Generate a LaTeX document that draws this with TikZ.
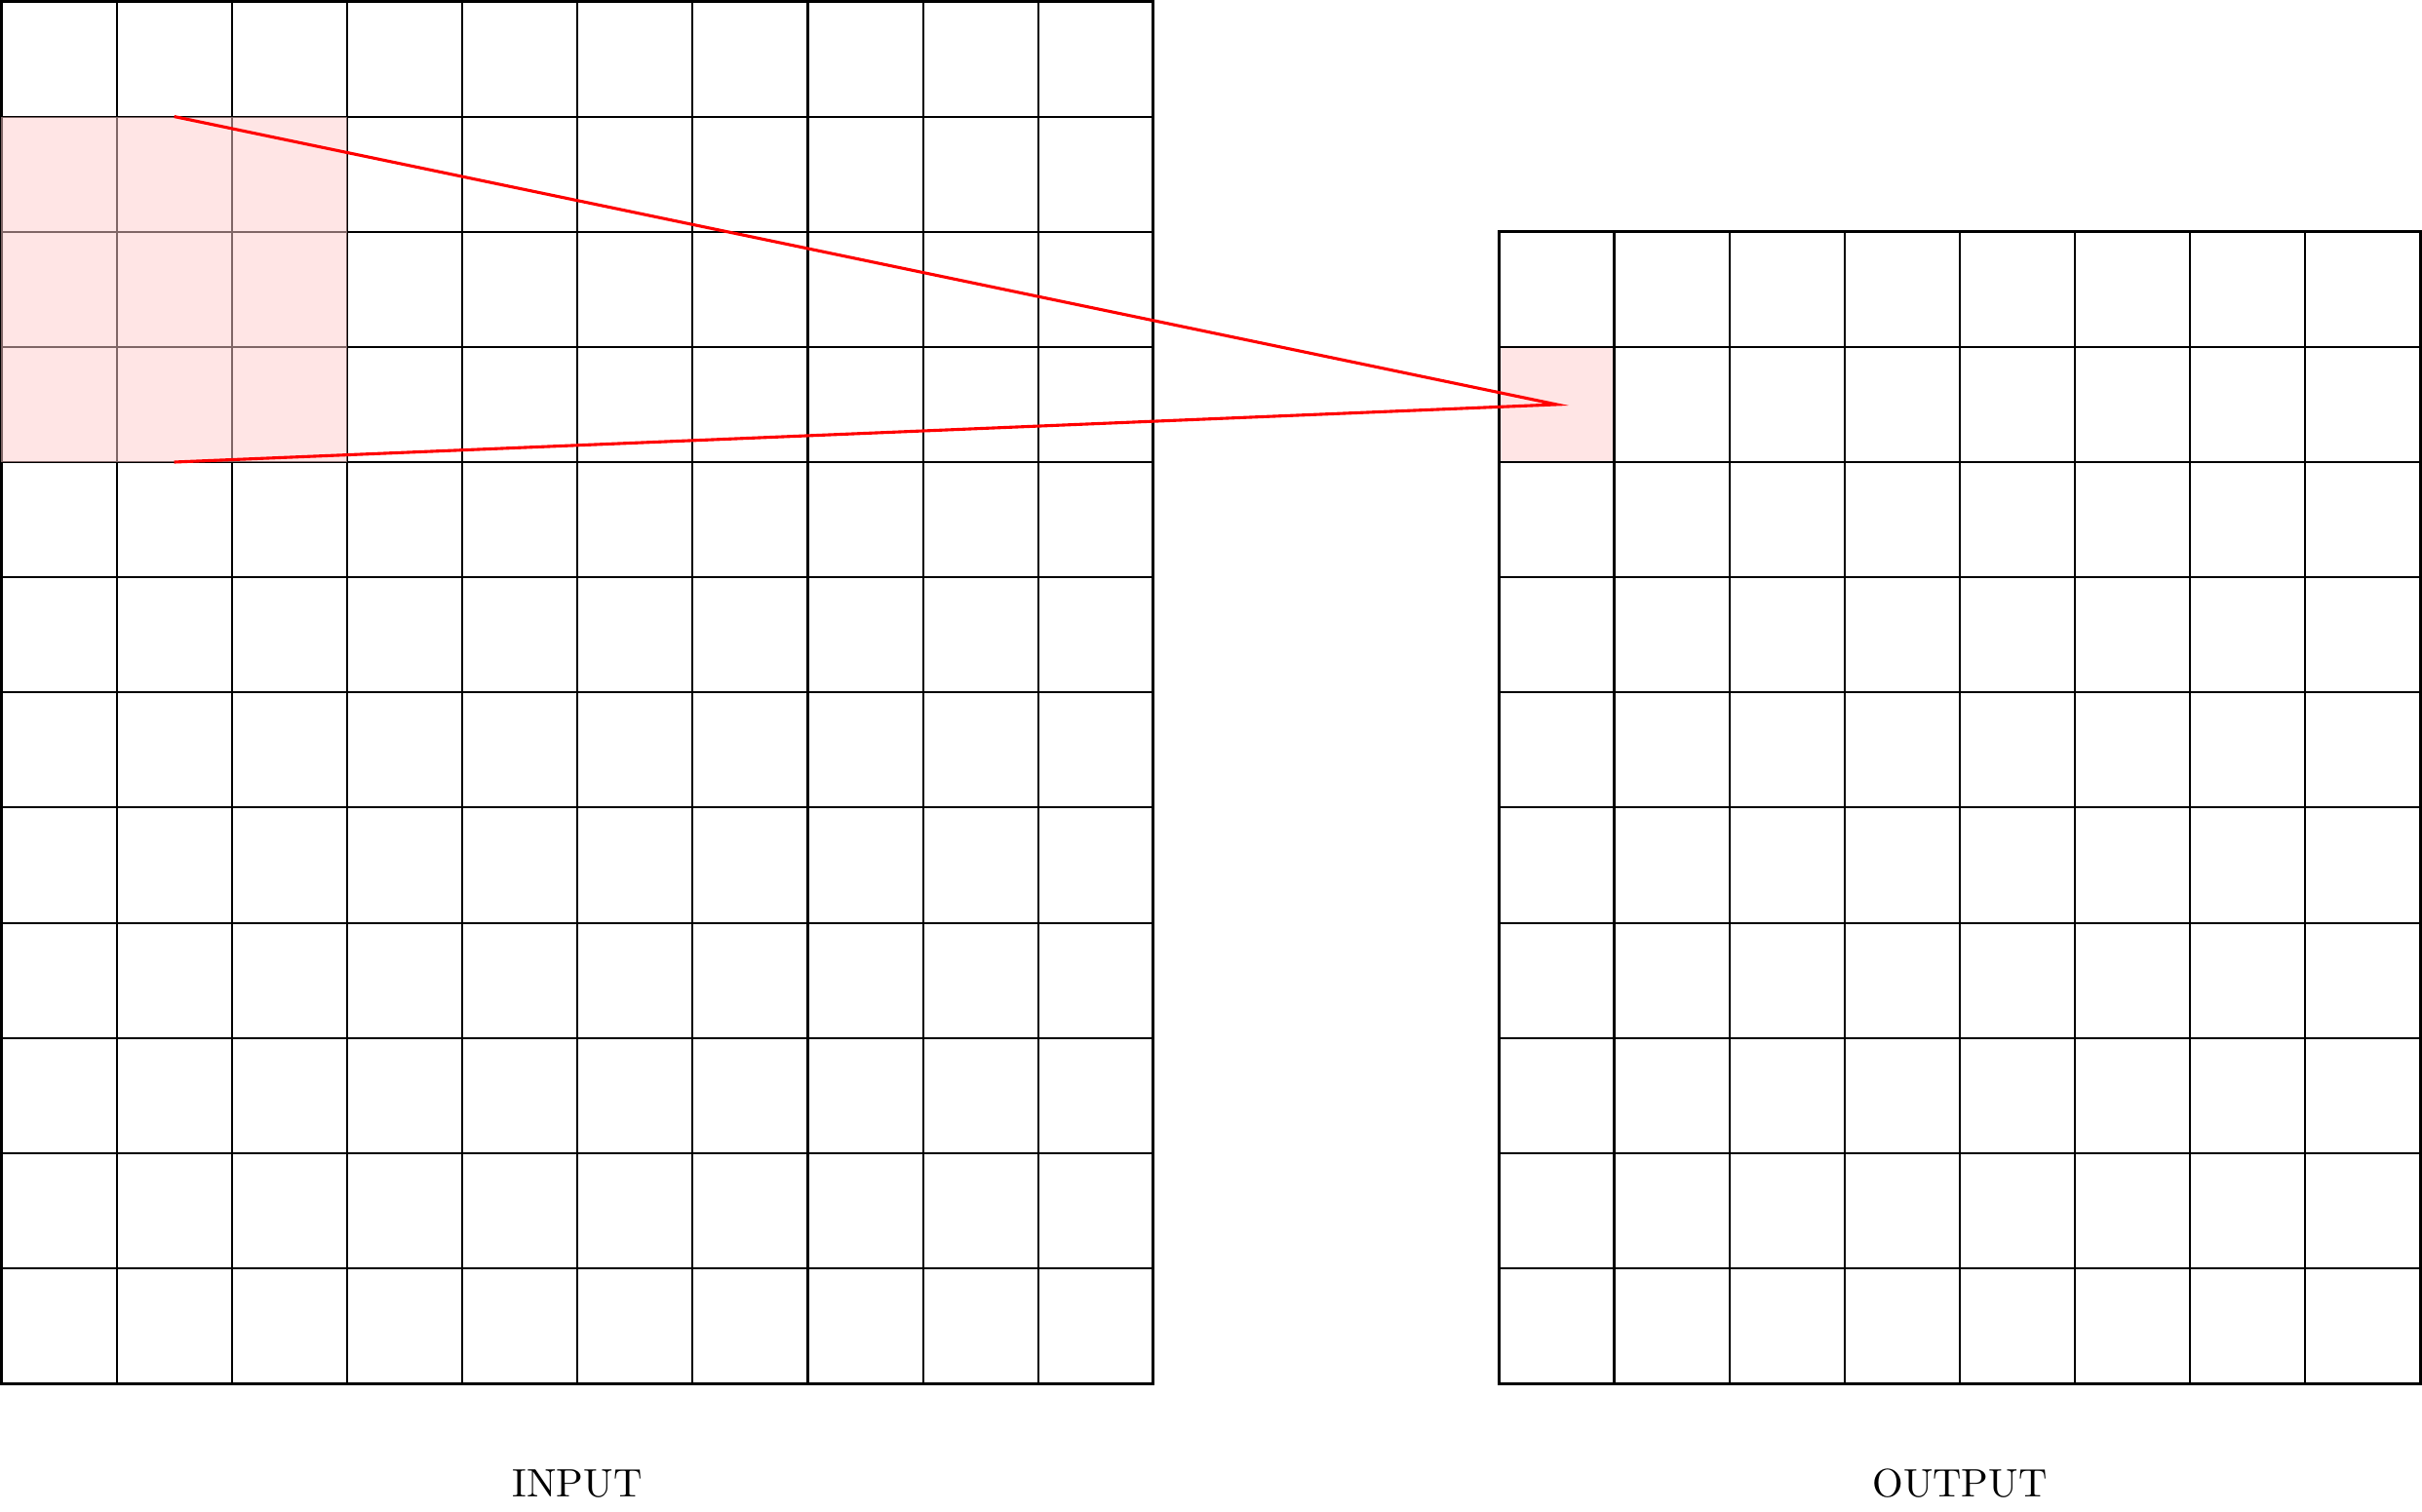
\documentclass[tikz,border=0pt]{standalone}
\begin{document}
\begin{tikzpicture}[
  gridline/.style={line width=0.5pt,black},
  frame/.style={line width=0.7pt,black},
  kernelfill/.style={fill=red!20,fill opacity=0.5},
  rf/.style={red,line width=0.75pt},
  lbl/.style={font=\fontsize{9.8}{12}\selectfont,anchor=base,inner sep=0pt}
]
\useasboundingbox (-0.012,0.012) rectangle (21.012,-13.115);
% output cell fill (under grid)
\fill[red!20,opacity=0.5] (13,-3) rectangle (14,-4);
% input grid 10 x 12
\draw[gridline] (0,0) grid (10,-12);
\draw[frame] (0,0) rectangle (10,-12);
% output grid 8 x 10
\draw[gridline] (13,-2) grid (21,-12);
\draw[frame] (13,-2) rectangle (21,-12);
% kernel region over input
\fill[kernelfill] (0,-1) rectangle (3,-4);
% connector
\coordinate (kt) at (1.5,-1);
\coordinate (kb) at (1.5,-4);
\coordinate (oc) at (13.5,-3.5);
\draw[rf] (kt) -- (oc) -- (kb);
% labels
\node[lbl] (inlbl) at (5,-12.98) {INPUT};
\node[lbl] (outlbl) at (17,-12.98) {OUTPUT};
\end{tikzpicture}
\end{document}
